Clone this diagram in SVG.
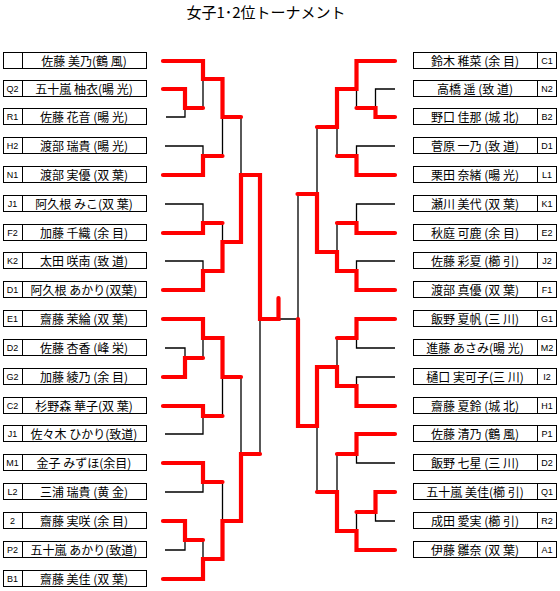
<svg xmlns="http://www.w3.org/2000/svg" width="560" height="591" viewBox="0 0 560 591">
<style>
.bx{fill:#fff;stroke:#000;stroke-width:1}
.nm{font-family:"Noto Sans CJK JP",sans-serif;font-size:12px;text-anchor:middle;dominant-baseline:central;fill:#000}
.lb{font-family:"Liberation Sans",sans-serif;font-size:9px;text-anchor:middle;dominant-baseline:central;fill:#000}
.bk{fill:none;stroke:#000;stroke-width:1.3}
.rd{fill:none;stroke:#ff0000;stroke-width:4.2;stroke-linecap:round;stroke-linejoin:miter}
.tt{font-family:"Noto Sans CJK JP",sans-serif;font-size:15px;text-anchor:middle;fill:#000}
</style>
<defs>
<g id="boxL"><rect class="bx" x="3.5" y="-8.5" width="143" height="16"/><line class="bx" x1="22.5" y1="-8.5" x2="22.5" y2="7.5"/></g>
<g id="boxR"><rect class="bx" x="413.5" y="-8.5" width="143" height="16"/><line class="bx" x1="537.5" y1="-8.5" x2="537.5" y2="7.5"/></g>
</defs>
<text class="tt" x="266" y="18">女子1･2位トーナメント</text>

<g id="L0" transform="translate(0,61)"><use href="#boxL"/><text class="lb" x="12.5" y="0"></text><text class="nm" x="84" y="-0.5">佐藤 美乃(鶴 風)</text></g>
<g id="L1" transform="translate(0,89)"><use href="#boxL"/><text class="lb" x="12.5" y="0">Q2</text><text class="nm" x="84" y="-0.5">五十嵐 柚衣(暘 光)</text></g>
<g id="L2" transform="translate(0,117)"><use href="#boxL"/><text class="lb" x="12.5" y="0">R1</text><text class="nm" x="84" y="-0.5">佐藤 花音 (暘 光)</text></g>
<g id="L3" transform="translate(0,146)"><use href="#boxL"/><text class="lb" x="12.5" y="0">H2</text><text class="nm" x="84" y="-0.5">渡部 瑞貴 (暘 光)</text></g>
<g id="L4" transform="translate(0,175)"><use href="#boxL"/><text class="lb" x="12.5" y="0">N1</text><text class="nm" x="84" y="-0.5">渡部 実優 (双 葉)</text></g>
<g id="L5" transform="translate(0,204)"><use href="#boxL"/><text class="lb" x="12.5" y="0">J1</text><text class="nm" x="84" y="-0.5">阿久根 みこ(双 葉)</text></g>
<g id="L6" transform="translate(0,233)"><use href="#boxL"/><text class="lb" x="12.5" y="0">F2</text><text class="nm" x="84" y="-0.5">加藤 千織 (余 目)</text></g>
<g id="L7" transform="translate(0,261)"><use href="#boxL"/><text class="lb" x="12.5" y="0">K2</text><text class="nm" x="84" y="-0.5">太田 咲南 (致 道)</text></g>
<g id="L8" transform="translate(0,290)"><use href="#boxL"/><text class="lb" x="12.5" y="0">D1</text><text class="nm" x="84" y="-0.5">阿久根 あかり(双葉)</text></g>
<g id="L9" transform="translate(0,319)"><use href="#boxL"/><text class="lb" x="12.5" y="0">E1</text><text class="nm" x="84" y="-0.5">齋藤 茉綸 (双 葉)</text></g>
<g id="L10" transform="translate(0,348)"><use href="#boxL"/><text class="lb" x="12.5" y="0">D2</text><text class="nm" x="84" y="-0.5">佐藤 杏香 (峰 栄)</text></g>
<g id="L11" transform="translate(0,377)"><use href="#boxL"/><text class="lb" x="12.5" y="0">G2</text><text class="nm" x="84" y="-0.5">加藤 綾乃 (余 目)</text></g>
<g id="L12" transform="translate(0,406)"><use href="#boxL"/><text class="lb" x="12.5" y="0">C2</text><text class="nm" x="84" y="-0.5">杉野森 華子(双 葉)</text></g>
<g id="L13" transform="translate(0,434)"><use href="#boxL"/><text class="lb" x="12.5" y="0">J1</text><text class="nm" x="84" y="-0.5">佐々木 ひかり(致道)</text></g>
<g id="L14" transform="translate(0,463)"><use href="#boxL"/><text class="lb" x="12.5" y="0">M1</text><text class="nm" x="84" y="-0.5">金子 みずほ(余目)</text></g>
<g id="L15" transform="translate(0,492)"><use href="#boxL"/><text class="lb" x="12.5" y="0">L2</text><text class="nm" x="84" y="-0.5">三浦 瑞貴 (黄 金)</text></g>
<g id="L16" transform="translate(0,521)"><use href="#boxL"/><text class="lb" x="12.5" y="0">2</text><text class="nm" x="84" y="-0.5">齋藤 実咲 (余 目)</text></g>
<g id="L17" transform="translate(0,550)"><use href="#boxL"/><text class="lb" x="12.5" y="0">P2</text><text class="nm" x="84" y="-0.5">五十嵐 あかり(致道)</text></g>
<g id="L18" transform="translate(0,579)"><use href="#boxL"/><text class="lb" x="12.5" y="0">B1</text><text class="nm" x="84" y="-0.5">齋藤 美佳 (双 葉)</text></g>

<g id="R0" transform="translate(0,61)"><use href="#boxR"/><text class="lb" x="547" y="0">C1</text><text class="nm" x="475" y="-0.5">鈴木 稚菜 (余 目)</text></g>
<g id="R1" transform="translate(0,89)"><use href="#boxR"/><text class="lb" x="547" y="0">N2</text><text class="nm" x="475" y="-0.5">高橋 遥  (致 道)</text></g>
<g id="R2" transform="translate(0,117)"><use href="#boxR"/><text class="lb" x="547" y="0">B2</text><text class="nm" x="475" y="-0.5">野口 佳那 (城 北)</text></g>
<g id="R3" transform="translate(0,146)"><use href="#boxR"/><text class="lb" x="547" y="0">D1</text><text class="nm" x="475" y="-0.5">菅原 一乃 (致 道)</text></g>
<g id="R4" transform="translate(0,175)"><use href="#boxR"/><text class="lb" x="547" y="0">L1</text><text class="nm" x="475" y="-0.5">栗田 奈緒 (暘 光)</text></g>
<g id="R5" transform="translate(0,204)"><use href="#boxR"/><text class="lb" x="547" y="0">K1</text><text class="nm" x="475" y="-0.5">瀬川 美代 (双 葉)</text></g>
<g id="R6" transform="translate(0,233)"><use href="#boxR"/><text class="lb" x="547" y="0">E2</text><text class="nm" x="475" y="-0.5">秋庭 可鹿 (余 目)</text></g>
<g id="R7" transform="translate(0,261)"><use href="#boxR"/><text class="lb" x="547" y="0">J2</text><text class="nm" x="475" y="-0.5">佐藤 彩夏 (櫛 引)</text></g>
<g id="R8" transform="translate(0,290)"><use href="#boxR"/><text class="lb" x="547" y="0">F1</text><text class="nm" x="475" y="-0.5">渡部 真優 (双 葉)</text></g>
<g id="R9" transform="translate(0,319)"><use href="#boxR"/><text class="lb" x="547" y="0">G1</text><text class="nm" x="475" y="-0.5">飯野 夏帆 (三 川)</text></g>
<g id="R10" transform="translate(0,348)"><use href="#boxR"/><text class="lb" x="547" y="0">M2</text><text class="nm" x="475" y="-0.5">進藤 あさみ(暘 光)</text></g>
<g id="R11" transform="translate(0,377)"><use href="#boxR"/><text class="lb" x="547" y="0">I2</text><text class="nm" x="475" y="-0.5">樋口 実可子(三 川)</text></g>
<g id="R12" transform="translate(0,406)"><use href="#boxR"/><text class="lb" x="547" y="0">H1</text><text class="nm" x="475" y="-0.5">齋藤 夏鈴 (城 北)</text></g>
<g id="R13" transform="translate(0,434)"><use href="#boxR"/><text class="lb" x="547" y="0">P1</text><text class="nm" x="475" y="-0.5">佐藤 清乃 (鶴 風)</text></g>
<g id="R14" transform="translate(0,463)"><use href="#boxR"/><text class="lb" x="547" y="0">D2</text><text class="nm" x="475" y="-0.5">飯野 七星 (三 川)</text></g>
<g id="R15" transform="translate(0,492)"><use href="#boxR"/><text class="lb" x="547" y="0">Q1</text><text class="nm" x="475" y="-0.5">五十嵐 美佳(櫛 引)</text></g>
<g id="R16" transform="translate(0,521)"><use href="#boxR"/><text class="lb" x="547" y="0">R2</text><text class="nm" x="475" y="-0.5">成田 愛実 (櫛 引)</text></g>
<g id="R17" transform="translate(0,550)"><use href="#boxR"/><text class="lb" x="547" y="0">A1</text><text class="nm" x="475" y="-0.5">伊藤 雛奈 (双 葉)</text></g>

<g id="connectors">
<g id="losers">
<path class="bk" d="M166,117H185V108 M203,79V108 M165,146H203V156 M222.5,117V156 M241,117V175 M165,204H203V223 M222.5,223V242 M165,261H203V271 M260,319V454"/>
<path class="bk" d="M165,348H185V358 M203,338V358 M222.5,377V416 M165,434H203V416 M241,377V454 M165,492H203V482 M222.5,482V521 M165,550H185V540 M203,540V559"/>
<path class="bk" d="M395,89H375.5V108 M356.5,89V108 M395,146H356.5V156 M337,127V156 M317,127V194 M395,204H356.5V223 M337,223V252 M395,261H356.5V271 M298,194V319 M298,319H280"/>
<path class="bk" d="M337,338V367 M395,348H356.5V338 M395,377H356.5V386 M317,426V492 M337,454V492 M395,463H356.5V454 M395,521H375.5V512 M356.5,512V531"/>
</g>
<g id="winners">
<path class="rd" d="M163,61H203V79H222.5V117H241"/>
<path class="rd" d="M163,89H185V108H203"/>
<path class="rd" d="M163,175H203V156H222.5"/>
<path class="rd" d="M163,233H203V223H222.5"/>
<path class="rd" d="M163,290H203V271H222.5V242H241V175H260V319H278.5V298"/>
<path class="rd" d="M163,319H203V338H222.5V377H241"/>
<path class="rd" d="M163,377H185V358H203"/>
<path class="rd" d="M163,406H203V416H222.5"/>
<path class="rd" d="M163,463H203V482H222.5"/>
<path class="rd" d="M163,521H185V540H203"/>
<path class="rd" d="M163,579H203V559H222.5V521H241V454H260"/>
<path class="rd" d="M395,61H356.5V89H337V127H317"/>
<path class="rd" d="M395,117H375.5V108H356.5"/>
<path class="rd" d="M395,175H356.5V156H337"/>
<path class="rd" d="M395,233H356.5V223H337"/>
<path class="rd" d="M395,290H356.5V271H337V252H317V194H297.5"/>
<path class="rd" d="M395,319H356.5V338H337"/>
<path class="rd" d="M395,406H356.5V386H337V367H317V426H298V319"/>
<path class="rd" d="M395,434H356.5V454H337"/>
<path class="rd" d="M395,492H375.5V512H356.5"/>
<path class="rd" d="M395,550H356.5V531H337V492H317"/>
</g>
</g>
</svg>
